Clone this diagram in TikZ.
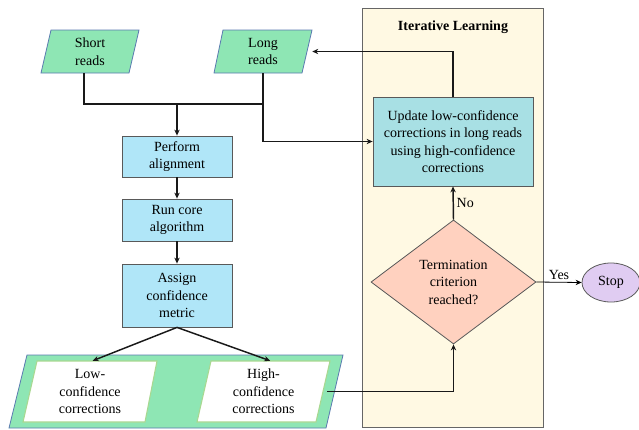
\documentclass[tikz,border=0pt]{standalone}
\usepackage{fontspec}
\setmainfont{Liberation Serif}
\usetikzlibrary{shapes.geometric,arrows.meta}
\definecolor{cgreen}{HTML}{8EE6B4}
\definecolor{cblue}{HTML}{B0E6F8}
\definecolor{cupd}{HTML}{A8E0E4}
\definecolor{cpeach}{HTML}{FFD1BF}
\definecolor{cstop}{HTML}{E0CCF2}
\definecolor{cpanel}{HTML}{FFF9E3}
\definecolor{cpara}{HTML}{5A7AB0}
\definecolor{cwborder}{HTML}{A8D890}
\begin{document}
\begin{tikzpicture}[x=0.75pt,y=-0.75pt,
  every node/.style={font=\fontsize{10.5}{13.1}\selectfont, align=center, inner sep=0pt},
  procbox/.style={draw=black!65, line width=0.6pt, fill=cblue, minimum width=110*0.75pt},
  paratext/.style={draw=none, minimum height=43*0.75pt},
  conn/.style={line width=1.1pt, draw=black!90},
  arr/.style={conn, -{Stealth[length=4.5pt,width=4pt]}},
]
\useasboundingbox (0,0) rectangle (639,429);
% panel
\node[draw=black!60, line width=0.6pt, fill=cpanel, minimum width=181*0.75pt, minimum height=419*0.75pt] (panel) at (452.5,217.5) {};
\node[font=\fontsize{10.5}{13.1}\selectfont\bfseries] (title) at (453,27) {Iterative Learning};

% parallelograms (input)
\fill[cgreen] (51,30) -- (139,30) -- (129,73) -- (41,73) -- cycle;
\draw[cpara, line width=0.6pt] (51,30) -- (139,30) -- (129,73) -- (41,73) -- cycle;
\node[paratext, minimum width=98*0.75pt] (short) at (90,51.5) {Short\\reads};
\fill[cgreen] (223,30) -- (312,30) -- (302,73) -- (214,73) -- cycle;
\draw[cpara, line width=0.6pt] (223,30) -- (312,30) -- (302,73) -- (214,73) -- cycle;
\node[paratext, minimum width=98*0.75pt] (long) at (263,51.5) {Long\\reads};

% process boxes
\node[procbox, minimum height=41*0.75pt] (align) at (177,156.5) {Perform\\alignment};
\node[procbox, minimum height=42*0.75pt] (core) at (177,220) {Run core\\algorithm};
\node[procbox, minimum height=63*0.75pt] (assign) at (177,295.5) {Assign\\confidence\\metric};

% big output parallelogram
\fill[cgreen] (27,355) -- (343,355) -- (326,428) -- (9,428) -- cycle;
\draw[cpara, line width=0.6pt] (27,355) -- (343,355) -- (326,428) -- (9,428) -- cycle;
\node[draw=none, minimum width=317*0.75pt, minimum height=73*0.75pt] (out) at (176,391.5) {};
\fill[white] (37,361) -- (157,361) -- (145,422) -- (23,422) -- cycle;
\draw[cwborder, line width=0.8pt] (37,361) -- (157,361) -- (145,422) -- (23,422) -- cycle;
\node[draw=none, minimum width=134*0.75pt, minimum height=61*0.75pt] (low) at (90,391.5) {Low-\\confidence\\corrections};
\fill[white] (211,361) -- (330,361) -- (316,422) -- (197,422) -- cycle;
\draw[cwborder, line width=0.8pt] (211,361) -- (330,361) -- (316,422) -- (197,422) -- cycle;
\node[draw=none, minimum width=133*0.75pt, minimum height=61*0.75pt] (high) at (263.5,391.5) {High-\\confidence\\corrections};

% iterative learning nodes
\node[draw=black!65, line width=0.6pt, fill=cupd, minimum width=160*0.75pt, minimum height=89*0.75pt] (upd) at (453,141.5) {Update low-confidence\\corrections in long reads\\using high-confidence\\corrections};
\node[diamond, draw=black!65, line width=0.6pt, fill=cpeach, minimum width=165*0.75pt, minimum height=124*0.75pt, aspect=1.33] (term) at (453.5,282) {Termination\\criterion\\reached?};
\node[ellipse, draw=black!65, line width=0.6pt, fill=cstop, minimum width=58*0.75pt, minimum height=39*0.75pt] (stop) at (611,282.5) {Stop};

% connectors
\coordinate (j) at (177,104);
\draw[conn] ([xshift=-4.5pt]short.south) |- (j);
\draw[conn] (long.south) |- (j);
\draw[arr] (j) -- (align.north);
\draw[arr] (long.south) |- (upd.west);
\draw[arr] (align.south) -- (core.north);
\draw[arr] (core.south) -- (assign.north);
\draw[arr] (assign.south) -- ([xshift=2pt]low.north);
\draw[arr] (assign.south) -- ([xshift=5pt]high.north);
\draw[arr] ([xshift=-6pt]out.east) -| (term.south);
\draw[arr] (term.north) -- node[right=2pt, pos=0.5] (nolab) {No} (upd.south);
\draw[arr] (upd.north) |- (long.east);
\draw[line width=0.6pt, -{Stealth[length=4.5pt,width=4pt]}] (term.east) -- node[above=2pt] (yeslab) {Yes} (stop.west);
\end{tikzpicture}
\end{document}
